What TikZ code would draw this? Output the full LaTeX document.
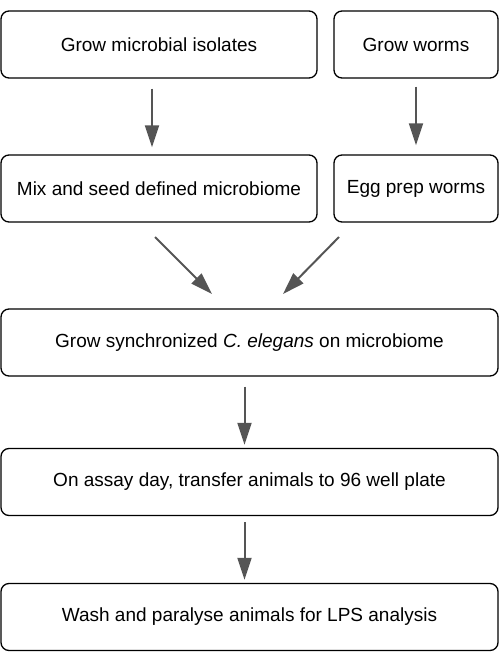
\documentclass[tikz,border=0pt]{standalone}
\usepackage{fontspec}
\setmainfont{Liberation Sans}
\usetikzlibrary{arrows.meta}
\definecolor{arrowgray}{HTML}{555555}
\begin{document}
\begin{tikzpicture}[x=1pt,y=-1pt,
    stepbox/.style={draw, line width=1.3pt, rounded corners=8pt, inner sep=0pt,
        minimum height=67pt, font=\fontsize{19}{23}\selectfont},
    flow/.style={draw=arrowgray, line width=2pt,
        -{Triangle[length=22pt,width=14pt,fill=arrowgray]}}]
    \useasboundingbox (0,0) rectangle (499,662);
    % top row
    \node[stepbox, minimum width=316pt] (isolates) at (159,44.5) {Grow microbial isolates};
    \node[stepbox, minimum width=164pt] (worms) at (416,44.5) {Grow worms};
    % second row
    \node[stepbox, minimum width=316pt] (mix) at (159,188.5) {Mix and seed defined microbiome};
    \node[stepbox, minimum width=164pt] (eggprep) at (416,188.5) {Egg prep worms};
    % main column
    \node[stepbox, minimum width=497pt] (growce) at (249.5,342.5) {Grow synchronized \textit{C. elegans} on microbiome};
    \node[stepbox, minimum width=497pt] (transfer) at (249.5,482) {On assay day, transfer animals to 96 well plate};
    \node[stepbox, minimum width=497pt] (wash) at (249.5,617) {Wash and paralyse animals for LPS analysis};
    % arrows
    \draw[flow, shorten <=10pt, shorten >=7pt] ([xshift=-7pt]isolates.south) -- ([xshift=-7pt]mix.north);
    \draw[flow, shorten <=8pt, shorten >=9pt] (worms.south) -- (eggprep.north);
    \coordinate (mixout) at (155,237);
    \coordinate (eggout) at (339,237);
    \coordinate (mixin) at (212,294);
    \coordinate (eggin) at (283,294);
    \draw[flow] (mixout) -- (mixin);
    \draw[flow] (eggout) -- (eggin);
    \draw[flow, shorten <=10pt, shorten >=3pt] ([xshift=-5pt]growce.south) -- ([xshift=-5pt]transfer.north);
    \draw[flow, shorten <=6pt, shorten >=3pt] ([xshift=-5pt]transfer.south) -- ([xshift=-5pt]wash.north);
\end{tikzpicture}
\end{document}
